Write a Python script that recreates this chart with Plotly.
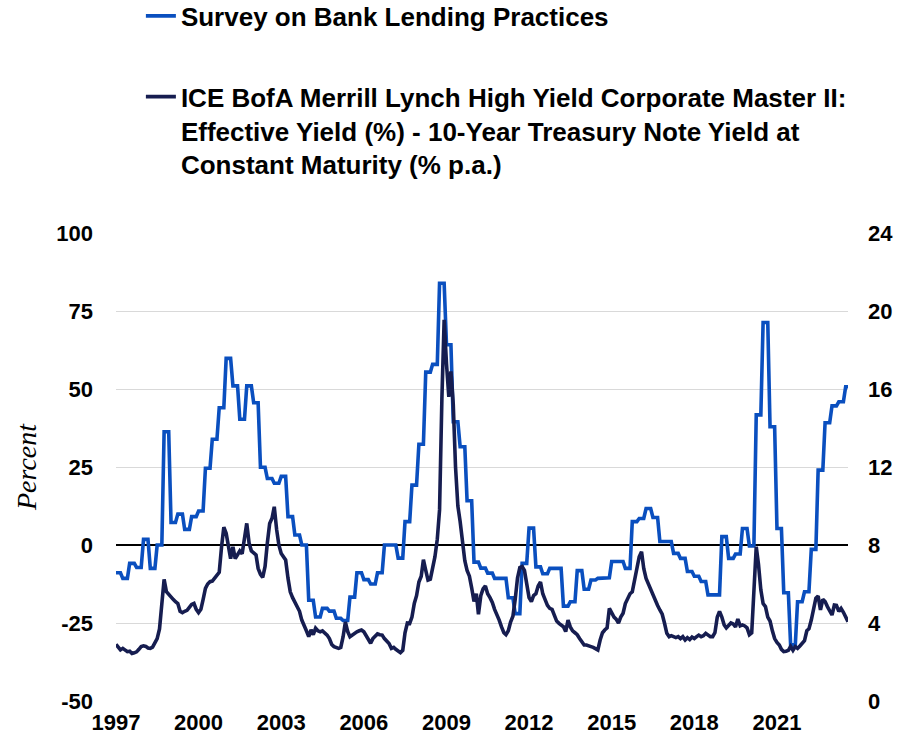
import numpy as np
import pandas as pd
import plotly.graph_objects as go

# ---------------- data ----------------
# Senior Loan Officer Survey: net % tightening, quarterly from 1997 Q1 to 2023 Q3
survey_quarterly = [
    -8.9, -10.7, -5.9, -7.2,      # 1997
    1.8, -7.5, 0.0, 36.3,         # 1998
    7.2, 9.9, 5.0, 9.1,           # 1999
    10.9, 24.6, 33.9, 44.0,       # 2000
    59.8, 51.0, 40.3, 51.0,       # 2001
    45.6, 24.9, 21.3, 19.8,       # 2002
    22.0, 9.1, 3.2, 0.0,          # 2003
    -17.7, -23.1, -20.3, -21.2,   # 2004
    -23.5, -24.2, -16.7, -8.9,    # 2005
    -11.1, -12.5, -8.9, 0.0,      # 2006
    0.0, -4.2, 7.5, 19.2,         # 2007
    32.3, 55.4, 57.9, 83.9,       # 2008
    64.2, 39.5, 31.5, 14.2,       # 2009
    -5.5, -7.4, -9.0, -10.7,      # 2010
    -10.7, -16.9, -22.0, -5.9,    # 2011
    5.4, -7.0, -9.2, -7.5,        # 2012
    -7.5, -19.6, -18.2, -8.2,     # 2013
    -14.2, -11.2, -10.7, -10.5,   # 2014
    -5.3, -5.3, -7.5, 7.5,        # 2015
    8.5, 11.7, 8.8, 1.1,          # 2016
    1.1, -2.7, -4.3, -8.5,        # 2017
    -10.0, -11.7, -16.0, -16.0,   # 2018
    2.7, -4.3, -2.9, 5.3,         # 2019
    -0.3, 41.7, 71.3, 37.9,       # 2020
    5.3, -15.3, -32.0, -18.2,     # 2021
    -15.0, -1.4, 24.0, 39.2,      # 2022
    44.6, 45.9, 50.7,             # 2023
]

# High-yield effective yield minus 10Y Treasury, monthly from Jan 1997 to Aug 2023
hy_spread = [
    2.91, 2.75, 2.62, 2.70, 2.62, 2.53, 2.55, 2.44, 2.47, 2.52, 2.65, 2.79,   # 1997
    2.83, 2.80, 2.72, 2.70, 2.76, 3.00, 3.20, 3.70, 5.00, 6.24, 5.60, 5.45,   # 1998
    5.35, 5.20, 5.09, 5.00, 4.60, 4.53, 4.60, 4.65, 4.80, 4.95, 5.00, 4.70,   # 1999
    4.53, 4.70, 5.20, 5.78, 6.00, 6.12, 6.15, 6.30, 6.46, 6.60, 7.91, 8.91,   # 2000
    8.60, 8.00, 7.30, 7.90, 7.30, 7.50, 7.70, 7.55, 8.50, 9.11, 8.10, 7.70,   # 2001
    7.60, 7.49, 6.80, 6.50, 6.34, 6.90, 8.10, 9.10, 9.37, 9.96, 8.80, 8.00,   # 2002
    7.57, 7.40, 7.23, 6.30, 5.60, 5.30, 5.09, 4.80, 4.60, 4.15, 3.90, 3.60,   # 2003
    3.30, 3.65, 3.40, 3.73, 3.60, 3.55, 3.60, 3.50, 3.38, 3.20, 2.90, 2.79,   # 2004
    2.75, 2.70, 2.75, 3.30, 4.05, 3.56, 3.30, 3.40, 3.45, 3.55, 3.60, 3.64,   # 2005
    3.55, 3.35, 3.20, 2.96, 3.20, 3.30, 3.44, 3.40, 3.38, 3.20, 3.05, 2.95,   # 2006
    2.70, 2.75, 2.65, 2.58, 2.48, 2.60, 3.50, 4.00, 3.98, 4.30, 5.00, 5.40,   # 2007
    6.10, 6.40, 7.25, 6.70, 6.20, 6.25, 6.80, 7.40, 8.30, 9.80, 15.50, 19.55, # 2008
    17.30, 15.60, 16.90, 15.20, 12.00, 10.00, 9.20, 8.20, 7.20, 6.70, 6.40, 5.80,  # 2009
    5.10, 5.50, 4.45, 5.40, 5.75, 5.90, 5.50, 5.30, 5.05, 4.70, 4.45, 4.15,   # 2010
    3.80, 3.50, 3.40, 3.60, 4.05, 4.35, 5.20, 6.30, 6.85, 6.90, 6.70, 5.90,   # 2011
    5.30, 5.10, 5.40, 5.50, 5.90, 6.10, 5.50, 5.20, 4.90, 4.75, 4.70, 4.40,   # 2012
    4.10, 3.98, 3.90, 3.81, 3.56, 4.15, 3.80, 3.60, 3.50, 3.40, 3.21, 3.00,   # 2013
    2.87, 2.87, 2.85, 2.79, 2.75, 2.70, 2.62, 3.13, 3.50, 3.64, 3.75, 4.75,   # 2014
    4.50, 4.30, 4.20, 4.00, 4.30, 4.50, 5.00, 5.30, 5.50, 5.60, 6.20, 7.00,   # 2015
    7.40, 7.66, 6.80, 6.29, 6.00, 5.80, 5.40, 5.10, 4.90, 4.67, 4.45, 4.00,   # 2016
    3.47, 3.30, 3.35, 3.30, 3.25, 3.30, 3.20, 3.30, 3.13, 3.25, 3.15, 3.28,   # 2017
    3.20, 3.30, 3.38, 3.30, 3.35, 3.47, 3.40, 3.30, 3.30, 3.50, 4.30, 4.60,   # 2018
    4.30, 3.90, 3.75, 3.85, 4.00, 3.95, 3.80, 4.20, 3.85, 3.90, 3.85, 3.75,   # 2019
    3.40, 3.50, 6.00, 7.91, 7.00, 5.70, 5.00, 4.84, 4.30, 4.10, 3.60, 3.20,   # 2020
    3.00, 2.87, 2.65, 2.53, 2.55, 2.60, 2.80, 2.60, 2.79, 2.70, 2.82, 2.96,   # 2021
    3.10, 3.60, 3.70, 4.15, 4.67, 5.27, 5.38, 4.67, 5.21, 5.10, 4.84, 4.58,   # 2022
    4.41, 4.92, 4.90, 4.60, 4.75, 4.55, 4.32, 4.07,                           # 2023
]

start_month = "1997-01-01"
n_months = len(hy_spread)
tick_years = [1997, 2000, 2003, 2006, 2009, 2012, 2015, 2018, 2021]
left_ticks = [-50, -25, 0, 25, 50, 75, 100]
left_ticktext = ["-50", "-25", "0", "25", "50", "75", "100"]
right_ticks = [0, 4, 8, 12, 16, 20, 24]

name_survey = "Survey on Bank Lending Practices"
name_hy = ("ICE BofA Merrill Lynch High Yield Corporate Master II:<br>"
           "Effective Yield (%) - 10-Year Treasury Note Yield at<br>"
           "Constant Maturity (% p.a.)")

# ---------------- build ----------------
months = pd.date_range(start_month, periods=n_months, freq="MS")
survey_monthly = np.repeat(np.array(survey_quarterly), 3)[:n_months]

BLUE = "#0a4fbf"
NAVY = "#161d50"
FONT = "Liberation Sans, Arial, sans-serif"

fig = go.Figure()
fig.add_trace(go.Scatter(
    x=months, y=survey_monthly, name=name_survey, mode="lines",
    line=dict(color=BLUE, width=3.6), legendgroup="a", yaxis="y",
))
fig.add_trace(go.Scatter(
    x=months, y=hy_spread, name=name_hy, mode="lines",
    line=dict(color=NAVY, width=3.6), legendgroup="b", yaxis="y2",
))

x_range = [months[0], months[-1]]
tickvals = [pd.Timestamp(f"{y}-01-01") for y in tick_years]
ticktext = [str(y) for y in tick_years]
tickfont = dict(family=FONT, size=22, color="#000000", weight="bold")

fig.update_layout(
    width=914, height=738,
    margin=dict(l=116, r=66, t=233, b=37, autoexpand=False),
    paper_bgcolor="white", plot_bgcolor="white",
    showlegend=True,
    legend=dict(
        x=0.034, y=1.514, xanchor="left", yanchor="top",
        font=dict(family=FONT, size=26, color="#000000", weight="bold"),
        valign="top", tracegroupgap=44, bgcolor="rgba(0,0,0,0)",
        itemwidth=30,
    ),
    xaxis=dict(
        type="date", range=x_range, tickvals=tickvals, ticktext=ticktext,
        showgrid=False, showline=False, zeroline=False, ticks="",
        tickfont=tickfont, ticklabelstandoff=6, automargin=False,
    ),
    xaxis2=dict(
        type="date", range=x_range, overlaying="x", anchor="free", position=1/3,
        tickvals=tickvals, showticklabels=False, showgrid=False, showline=False,
        ticks="outside", ticklen=6, tickwidth=2, tickcolor="#000000",
        automargin=False,
    ),
    xaxis3=dict(
        type="date", range=x_range, overlaying="x", anchor="free", position=1/3,
        tickvals=tickvals, showticklabels=False, showgrid=False, showline=False,
        ticks="inside", ticklen=6, tickwidth=2, tickcolor="#000000",
        automargin=False,
    ),
    yaxis=dict(
        range=[-50, 100], tickvals=left_ticks, ticktext=left_ticktext,
        showgrid=True, gridcolor="#d9d9d9", gridwidth=1.3,
        zeroline=True, zerolinecolor="#000000", zerolinewidth=2,
        showline=False, ticks="", tickfont=tickfont, ticklabelstandoff=22,
        automargin=False,
        title=dict(text="Percent", standoff=11,
                   font=dict(family="Liberation Serif, Times New Roman, serif",
                             size=28, color="#000000", style="italic")),
    ),
    yaxis2=dict(
        range=[0, 24], tickvals=right_ticks, overlaying="y", side="right",
        showgrid=False, zeroline=False, showline=False, ticks="",
        tickfont=tickfont, ticklabelstandoff=19, automargin=False,
    ),
)

# remove the default 8px page margin so the figure sits at the window's corner
fig.write_html("out.html", config={"displayModeBar": False},
               post_script="document.body.style.margin='0px';")
